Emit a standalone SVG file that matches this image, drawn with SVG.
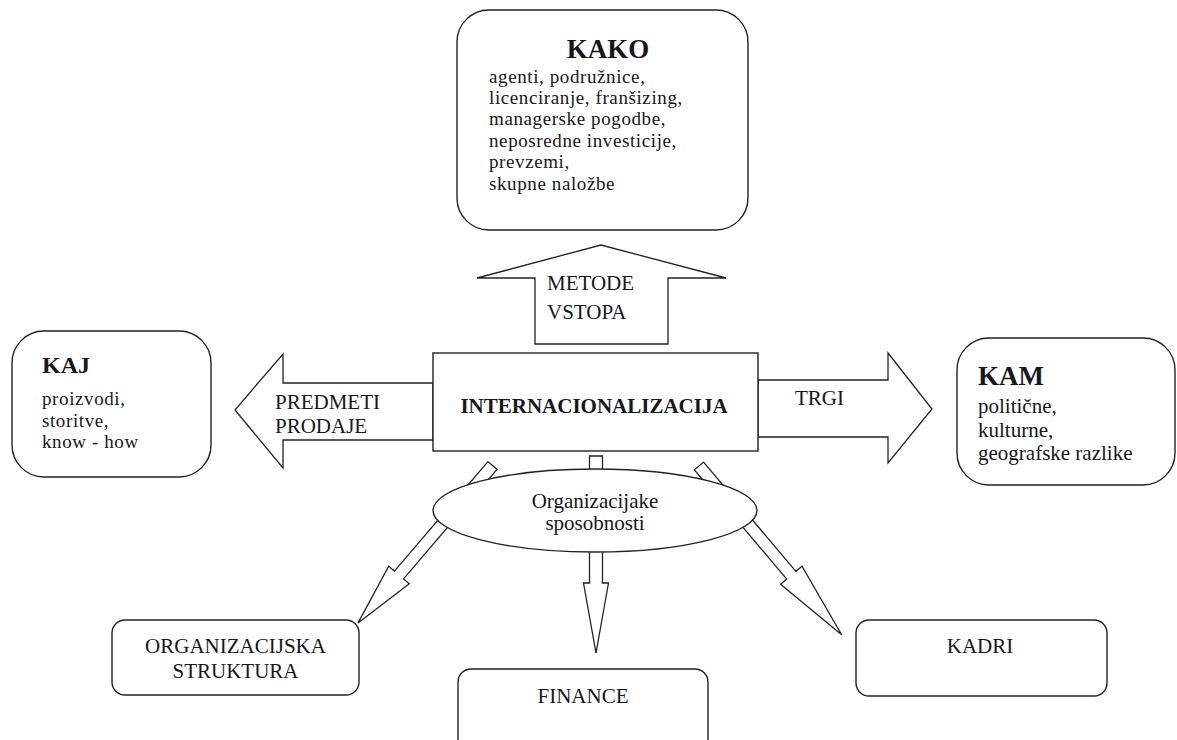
<svg xmlns="http://www.w3.org/2000/svg" width="1177" height="740" viewBox="0 0 1177 740">
<style>
.box{fill:#fff;stroke:#222;stroke-width:1.4}
.arr{fill:#fff;stroke:#222;stroke-width:1.3;stroke-linejoin:miter}
text{font-family:"Liberation Serif","Times New Roman",serif;fill:#161622}
.t{font-size:21px}
.s{font-size:19px;letter-spacing:0.6px}
.b{font-weight:bold}
.m{text-anchor:middle}
</style>
<rect width="1177" height="740" fill="#fff"/>
<g id="connectors">
<polygon class="arr" points="535,344 535,278 477,278 601,245 726,278 668,278 668,344"/>
<polygon class="arr" points="433,383 283,383 283,354 235,410 283,468 283,440 433,440"/>
<polygon class="arr" points="758,380 888,380 888,353 932,409 888,463 888,437 758,437"/>
<polygon class="arr" transform="translate(492.5,465.5) rotate(130.5)" points="0,-6 144,-6 144,-13.5 207,0 144,13.5 144,6 0,6"/>
<polygon class="arr" transform="translate(699,466) rotate(49.8)" points="0,-6 143,-6 143,-14 221,0 143,14 143,6 0,6"/>
<polygon class="arr" transform="translate(596,456) rotate(90)" points="0,-6.5 127,-6.5 127,-12.5 197,0 127,12.5 127,6.5 0,6.5"/>
</g>
<g id="kako">
<rect class="box" x="457" y="10" width="291" height="220" rx="32"/>
<text class="b m" x="608" y="58" font-size="27">KAKO</text>
<text class="s" x="489" y="83">agenti, podružnice,</text>
<text class="s" x="489" y="104">licenciranje, franšizing,</text>
<text class="s" x="489" y="125">managerske pogodbe,</text>
<text class="s" x="489" y="147">neposredne investicije,</text>
<text class="s" x="489" y="168">prevzemi,</text>
<text class="s" x="489" y="190">skupne naložbe</text>
</g>
<g id="metode">
<text class="t" x="547" y="290">METODE</text>
<text class="t" x="547" y="319">VSTOPA</text>
</g>
<g id="predmeti">
<text class="t" x="275" y="409">PREDMETI</text>
<text class="t" x="275" y="433">PRODAJE</text>
</g>
<g id="trgi">
<text class="t" x="795" y="405">TRGI</text>
</g>
<g id="internacionalizacija">
<rect class="box" x="433" y="353" width="325" height="98"/>
<text class="b m" x="594" y="413" font-size="21">INTERNACIONALIZACIJA</text>
</g>
<g id="kaj">
<rect class="box" x="12" y="331" width="199" height="146" rx="32"/>
<text class="b" x="42" y="373" font-size="24">KAJ</text>
<text class="s" x="42" y="405">proizvodi,</text>
<text class="s" x="42" y="427">storitve,</text>
<text class="s" x="42" y="448">know - how</text>
</g>
<g id="kam">
<rect class="box" x="957" y="338" width="218" height="147" rx="32"/>
<text class="b" x="978" y="385" font-size="27">KAM</text>
<text class="t" x="978" y="413">politične,</text>
<text class="t" x="978" y="437">kulturne,</text>
<text class="t" x="978" y="460">geografske razlike</text>
</g>
<g id="sposobnosti">
<ellipse class="box" cx="595" cy="510.5" rx="162" ry="41.5"/>
<text class="t m" x="595" y="508">Organizacijake</text>
<text class="t m" x="595" y="530">sposobnosti</text>
</g>
<g id="struktura">
<rect class="box" x="112" y="620" width="247" height="75" rx="13"/>
<text class="t m" x="235.5" y="653">ORGANIZACIJSKA</text>
<text class="t m" x="235.5" y="678">STRUKTURA</text>
</g>
<g id="finance">
<rect class="box" x="458" y="669" width="250" height="90" rx="13"/>
<text class="t m" x="583" y="703">FINANCE</text>
</g>
<g id="kadri">
<rect class="box" x="856" y="620" width="251" height="76" rx="13"/>
<text class="t m" x="980" y="653">KADRI</text>
</g>
</svg>
